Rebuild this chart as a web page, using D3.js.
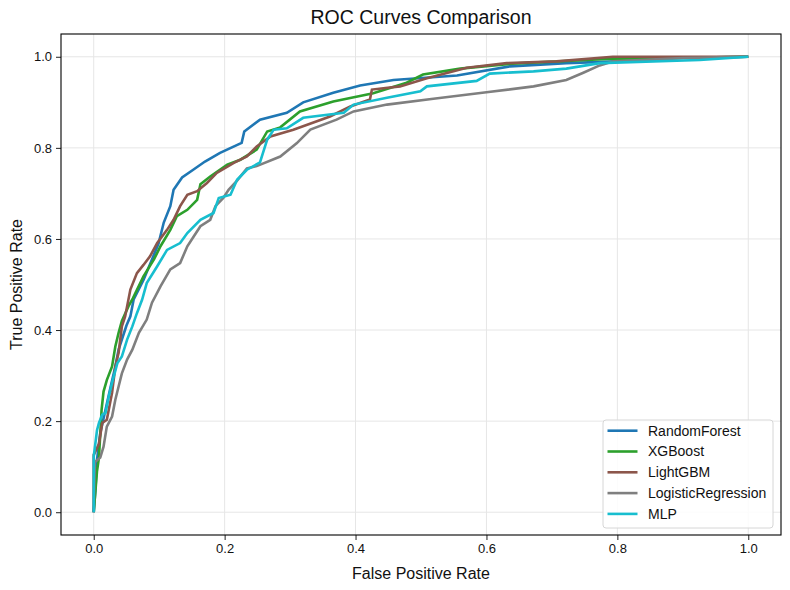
<!DOCTYPE html>
<meta charset="utf-8">
<html>
<head>
<style>
  body { margin: 0; background: #fff; }
  text { font-family: "Liberation Sans", Arial, sans-serif; fill: #111; }
</style>
</head>
<body>
<div id="chart"></div>
<script src="https://d3js.org/d3.v7.min.js"></script>
<script>

  // ROC points: [fpr, tpr]
  var randomForest = [[0,0],[0.0026,0.05],[0.005,0.115],[0.01,0.174],[0.018,0.225],[0.025,0.27],[0.033,0.32],[0.038,0.357],[0.05,0.41],[0.056,0.43],[0.061,0.467],[0.076,0.51],[0.089,0.555],[0.099,0.59],[0.107,0.636],[0.117,0.672],[0.122,0.708],[0.135,0.735],[0.152,0.752],[0.17,0.77],[0.193,0.789],[0.226,0.811],[0.23,0.836],[0.254,0.862],[0.295,0.877],[0.32,0.9],[0.366,0.921],[0.407,0.937],[0.458,0.949],[0.555,0.959],[0.636,0.979],[0.722,0.986],[0.8,0.99],[0.9,0.998],[1,1]];
  var xgBoost = [[0,0],[0.005,0.09],[0.008,0.12],[0.012,0.225],[0.015,0.265],[0.02,0.29],[0.028,0.32],[0.033,0.364],[0.038,0.394],[0.043,0.42],[0.053,0.452],[0.06,0.47],[0.076,0.518],[0.092,0.555],[0.102,0.584],[0.117,0.62],[0.127,0.65],[0.143,0.664],[0.158,0.686],[0.163,0.72],[0.178,0.737],[0.204,0.763],[0.224,0.774],[0.249,0.796],[0.265,0.836],[0.285,0.845],[0.315,0.88],[0.366,0.902],[0.427,0.92],[0.478,0.943],[0.503,0.961],[0.56,0.974],[0.64,0.985],[0.784,0.995],[0.9,0.998],[1,1]];
  var lightGBM = [[0,0],[0,0.126],[0.008,0.15],[0.013,0.196],[0.02,0.203],[0.028,0.262],[0.033,0.32],[0.038,0.35],[0.043,0.408],[0.048,0.43],[0.056,0.489],[0.066,0.525],[0.076,0.543],[0.086,0.562],[0.097,0.591],[0.112,0.62],[0.122,0.642],[0.132,0.672],[0.143,0.697],[0.158,0.705],[0.173,0.723],[0.188,0.745],[0.214,0.767],[0.234,0.781],[0.249,0.803],[0.27,0.825],[0.305,0.84],[0.361,0.869],[0.392,0.891],[0.422,0.906],[0.425,0.928],[0.468,0.935],[0.509,0.953],[0.57,0.976],[0.631,0.986],[0.707,0.99],[0.793,1.0],[1,1]];
  var logisticRegression = [[0,0],[0.0015,0.11],[0.01,0.12],[0.015,0.144],[0.02,0.188],[0.028,0.21],[0.033,0.247],[0.038,0.276],[0.043,0.305],[0.051,0.335],[0.059,0.357],[0.069,0.394],[0.081,0.423],[0.089,0.46],[0.102,0.496],[0.117,0.533],[0.132,0.547],[0.143,0.584],[0.153,0.606],[0.163,0.628],[0.178,0.642],[0.186,0.672],[0.198,0.69],[0.206,0.708],[0.219,0.728],[0.234,0.755],[0.249,0.76],[0.285,0.781],[0.31,0.81],[0.331,0.84],[0.371,0.862],[0.397,0.88],[0.448,0.895],[0.519,0.908],[0.6,0.922],[0.672,0.935],[0.722,0.949],[0.748,0.965],[0.773,0.981],[0.794,0.99],[0.9,0.997],[1,1]];
  var mlp = [[0,0],[0,0.122],[0.005,0.18],[0.008,0.196],[0.013,0.214],[0.018,0.218],[0.023,0.254],[0.028,0.284],[0.036,0.327],[0.043,0.342],[0.051,0.379],[0.059,0.408],[0.066,0.437],[0.074,0.467],[0.081,0.503],[0.097,0.54],[0.112,0.576],[0.132,0.591],[0.143,0.613],[0.163,0.642],[0.183,0.657],[0.191,0.69],[0.209,0.697],[0.219,0.73],[0.234,0.752],[0.254,0.768],[0.265,0.818],[0.275,0.84],[0.295,0.843],[0.32,0.866],[0.382,0.877],[0.397,0.895],[0.448,0.91],[0.499,0.924],[0.509,0.935],[0.585,0.947],[0.605,0.963],[0.672,0.968],[0.722,0.974],[0.773,0.986],[0.926,0.993],[1,1]];

  var modelNames = ["RandomForest", "XGBoost", "LightGBM", "LogisticRegression", "MLP"];
  var modelData = [randomForest, xgBoost, lightGBM, logisticRegression, mlp];
  var colors = ["#1f77b4", "#2ca02c", "#8c564b", "#7f7f7f", "#17becf"];
  var tickValues = [0, 0.2, 0.4, 0.6, 0.8, 1.0];

  var W = 790, H = 590;
  var margin = {top: 34, right: 9, bottom: 55, left: 61};
  var width = W - margin.left - margin.right,
      height = H - margin.top - margin.bottom;

  var svg = d3.select("#chart").append("svg")
      .attr("width", W)
      .attr("height", H);

  var g = svg.append("g")
      .attr("transform", "translate(" + margin.left + "," + margin.top + ")");

  var x = d3.scaleLinear().domain([-0.05, 1.05]).range([0, width]);
  var y = d3.scaleLinear().domain([-0.05, 1.05]).range([height, 0]);

  // grid
  g.append("g").selectAll("line").data(tickValues).enter().append("line")
      .attr("x1", function(d) { return x(d); }).attr("x2", function(d) { return x(d); })
      .attr("y1", 0).attr("y2", height)
      .attr("stroke", "#e6e6e6").attr("stroke-width", 1);
  g.append("g").selectAll("line").data(tickValues).enter().append("line")
      .attr("y1", function(d) { return y(d); }).attr("y2", function(d) { return y(d); })
      .attr("x1", 0).attr("x2", width)
      .attr("stroke", "#e6e6e6").attr("stroke-width", 1);

  // curves
  var line = d3.line()
      .x(function(d) { return x(d[0]); })
      .y(function(d) { return y(d[1]); });

  modelData.forEach(function(pts, i) {
    g.append("path")
      .datum(pts)
      .attr("fill", "none")
      .attr("stroke", colors[i])
      .attr("stroke-width", 2.6)
      .attr("stroke-linejoin", "miter")
      .attr("d", line);
  });

  // axes
  var fmt = d3.format(".1f");
  var xAxis = g.append("g")
      .attr("transform", "translate(0," + height + ")")
      .call(d3.axisBottom(x).tickValues(tickValues).tickFormat(fmt).tickSize(5).tickPadding(4));
  var yAxis = g.append("g")
      .call(d3.axisLeft(y).tickValues(tickValues).tickFormat(fmt).tickSize(5).tickPadding(4));
  [xAxis, yAxis].forEach(function(a) {
    a.select(".domain").remove();
    a.selectAll("line").attr("stroke", "#222");
    a.selectAll("text").style("font-family", '"Liberation Sans", Arial, sans-serif')
      .style("font-size", "13px").attr("fill", "#222");
  });

  // frame
  g.append("rect")
      .attr("width", width).attr("height", height)
      .attr("fill", "none").attr("stroke", "#000").attr("stroke-width", 1.1);

  // titles
  svg.append("text")
      .attr("x", margin.left + width / 2).attr("y", 24)
      .attr("text-anchor", "middle")
      .style("font-size", "19.5px")
      .text("ROC Curves Comparison");
  svg.append("text")
      .attr("x", margin.left + width / 2).attr("y", 579)
      .attr("text-anchor", "middle")
      .style("font-size", "16px")
      .text("False Positive Rate");
  svg.append("text")
      .attr("transform", "translate(22," + (margin.top + height / 2) + ") rotate(-90)")
      .attr("text-anchor", "middle")
      .style("font-size", "16px")
      .text("True Positive Rate");

  // legend
  var legend = svg.append("g").attr("transform", "translate(603,420)");
  legend.append("rect")
      .attr("width", 170).attr("height", 108)
      .attr("rx", 3).attr("ry", 3)
      .attr("fill", "#fff").attr("fill-opacity", 0.85)
      .attr("stroke", "#d6d6d6").attr("stroke-width", 1);
  modelNames.forEach(function(name, i) {
    var row = legend.append("g").attr("transform", "translate(0," + (10.7 + i * 20.8) + ")");
    row.append("line")
      .attr("x1", 4.5).attr("x2", 34.5)
      .attr("stroke", colors[i]).attr("stroke-width", 2.6);
    row.append("text")
      .attr("x", 45).attr("dy", "0.35em")
      .style("font-size", "14px")
      .text(name);
  });

</script>
</body>
</html>
